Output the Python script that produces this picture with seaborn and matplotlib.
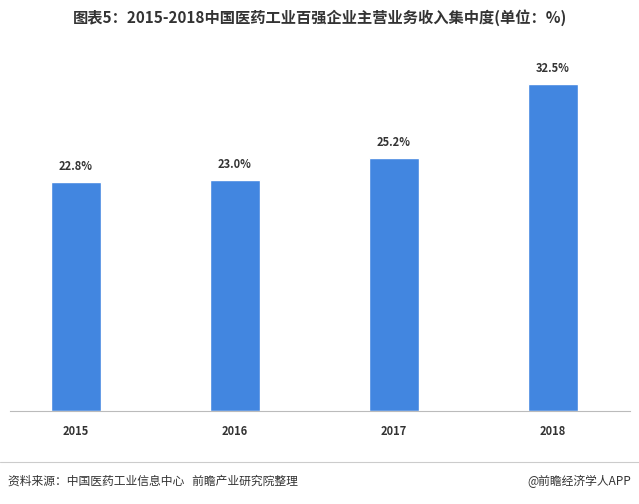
import matplotlib
matplotlib.use('Agg')
import matplotlib.pyplot as plt
import seaborn as sns
import pandas as pd

years = ['2015', '2016', '2017', '2018']
shares = [22.8, 23.0, 25.2, 32.5]
labels = ['22.8%', '23.0%', '25.2%', '32.5%']

sns.set_style('white')
plt.rcParams['font.family'] = ['Noto Sans CJK SC', 'DejaVu Sans']

df = pd.DataFrame({'year': years, 'share': shares})
fig = plt.figure(figsize=(6.39, 5.04), dpi=100)
ax = fig.add_axes([10 / 639, 93 / 504, 620 / 639, 371 / 504])
sns.barplot(data=df, x='year', y='share', color='#4286E0', width=0.31,
            saturation=1, ax=ax)
for i, (v, t) in enumerate(zip(shares, labels)):
    ax.text(i, v + 0.9, t, ha='center', va='bottom', fontsize=8,
            fontweight='bold', color='#333333')

ax.set_xlim(-0.415, 3.484)
ax.set_ylim(0, 36.9)
ax.set_yticks([])
ax.set_xlabel('')
ax.set_ylabel('')
for s in ['top', 'left', 'right']:
    ax.spines[s].set_visible(False)
ax.spines['bottom'].set_color('#bbbbbb')
ax.tick_params(axis='x', length=0, pad=10)
for lab in ax.get_xticklabels():
    lab.set_fontweight('bold')
    lab.set_fontsize(8)
    lab.set_color('#333333')

fig.text(0.5, 1 - 18 / 504, '图表5：2015-2018中国医药工业百强企业主营业务收入集中度(单位：%)',
         ha='center', va='center', fontsize=11, fontweight='bold', color='#333333')
fig.add_artist(plt.Line2D([0, 1], [1 - 462 / 504] * 2, color='#cccccc', lw=0.8))
fig.text(8 / 639, 1 - 481 / 504, '资料来源：中国医药工业信息中心   前瞻产业研究院整理',
         ha='left', va='center', fontsize=8.5, color='#333333')
fig.text(631 / 639, 1 - 481 / 504, '@前瞻经济学人APP',
         ha='right', va='center', fontsize=8.5, color='#333333')

fig.savefig('out.png', dpi=100)
